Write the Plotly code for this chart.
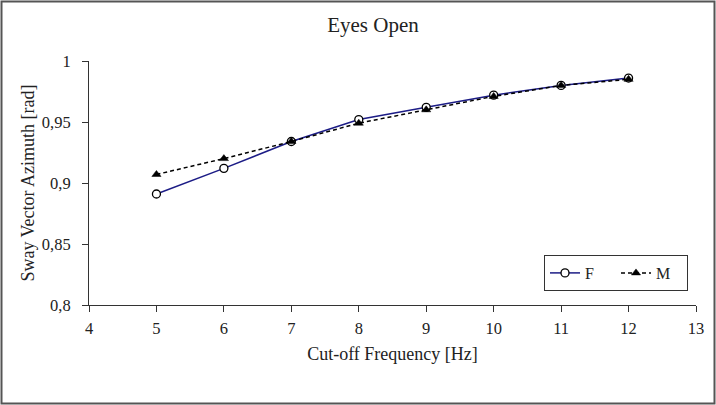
import plotly.graph_objects as go

freq = [5, 6, 7, 8, 9, 10, 11, 12]
f_vals = [0.891, 0.912, 0.934, 0.952, 0.962, 0.972, 0.980, 0.986]
m_vals = [0.907, 0.920, 0.934, 0.949, 0.960, 0.971, 0.980, 0.985]

x_ticks = [4, 5, 6, 7, 8, 9, 10, 11, 12, 13]
y_ticks = [0.8, 0.85, 0.9, 0.95, 1.0]
y_tick_text = ["0,8", "0,85", "0,9", "0,95", "1"]

FONT = "Liberation Serif"
W, H = 716, 405
ML, MR, MT, MB = 89, 20, 61, 100
PW, PH = W - ML - MR, H - MT - MB

fig = go.Figure()
fig.add_trace(go.Scatter(
    x=freq, y=f_vals, name="F", mode="lines+markers",
    line=dict(color="#1c1c86", width=1.5),
    marker=dict(symbol="circle", size=8, color="white",
                line=dict(color="black", width=1.3)),
))
fig.add_trace(go.Scatter(
    x=freq, y=m_vals, name="M", mode="lines+markers",
    line=dict(color="black", width=1.5, dash="4px,3px"),
    marker=dict(symbol="triangle-up", size=8, color="black",
                line=dict(color="black", width=0.5)),
))

fig.update_layout(
    width=W, height=H,
    margin=dict(l=ML, r=MR, t=MT, b=MB),
    paper_bgcolor="white", plot_bgcolor="white",
    font=dict(family=FONT, size=16.5, color="#222222"),
    title=dict(text="Eyes Open", x=373 / W, xref="container", xanchor="center",
               y=1 - 25 / H, yref="container", yanchor="middle",
               font=dict(family=FONT, size=21, color="#222222")),
    xaxis=dict(range=[4, 13], tickvals=x_ticks, showgrid=False, zeroline=False,
               showline=True, linecolor="#333333", linewidth=1,
               ticks="outside", ticklen=6, tickcolor="#333333",
               ticklabelstandoff=2,
               title=dict(text="Cut-off Frequency [Hz]", standoff=10,
                          font=dict(family=FONT, size=18))),
    yaxis=dict(range=[0.8, 1.0], tickvals=y_ticks, ticktext=y_tick_text,
               showgrid=False, zeroline=False,
               showline=True, linecolor="#333333", linewidth=1,
               ticks="outside", ticklen=6, tickcolor="#333333",
               ticklabelstandoff=8,
               title=dict(text="Sway Vector Azimuth [rad]", standoff=2,
                          font=dict(family=FONT, size=18))),
    legend=dict(orientation="h", x=(688 - ML) / PW, xanchor="right",
                y=1 - (273 - MT) / PH, yanchor="middle",
                bordercolor="#333333", borderwidth=1, bgcolor="white",
                font=dict(family=FONT, size=16), itemwidth=30,
                entrywidth=26, entrywidthmode="pixels",
                tracegroupgap=0, traceorder="normal"),
    showlegend=True,
)

# Outer frame around the whole figure
fig.add_shape(type="rect", xref="paper", yref="paper",
              x0=(1.5 - ML) / PW, x1=(W - 1.5 - ML) / PW,
              y0=-(H - 1.5 - MT - PH) / PH, y1=1 + (MT - 1.5) / PH,
              line=dict(color="#555555", width=2), layer="below")

fig.write_html("out.html", config={"displayModeBar": False},
               post_script="document.body.style.margin='0';document.body.style.padding='0';")
